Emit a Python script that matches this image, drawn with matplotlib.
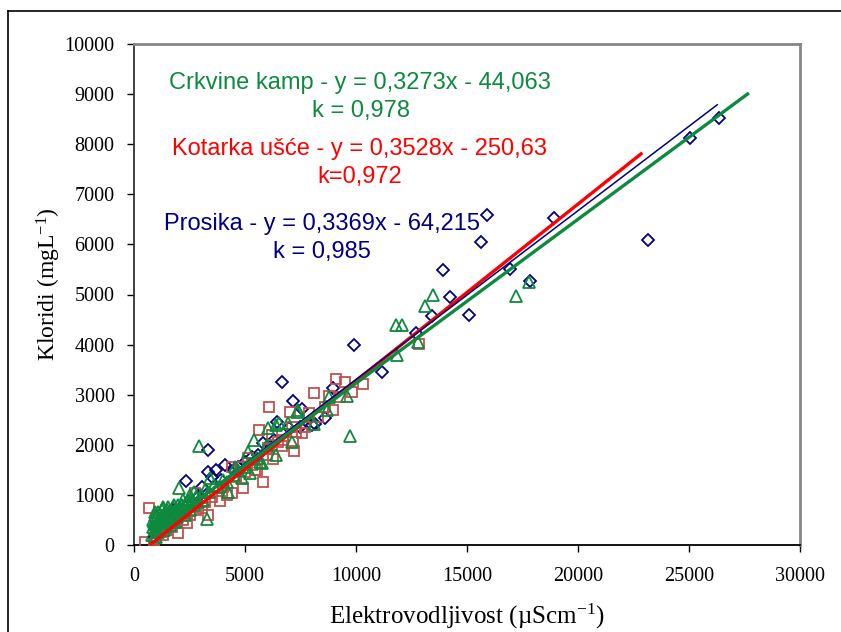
import matplotlib
matplotlib.use("Agg")
import matplotlib.pyplot as plt
from matplotlib.lines import Line2D
import numpy as np

# ---------------- data ----------------
# Prosika (blue diamonds)
prosika_x = [26350, 25050, 23150, 18900, 15920, 15630, 13930, 14220, 13440, 15090,
             16940, 17840, 12700, 11150, 9930, 6650, 7180, 7550, 8980, 8600,
             8030, 7000, 6430, 3350, 2350, 3690, 4100, 3350, 3050, 5000,
             5820, 7480, 8150, 1620, 1760, 3500, 1000, 1200, 1450, 2000,
             2200, 2600, 2900, 3900, 4500, 5300, 5600, 6100, 6300, 1300,
             1800, 4700]
prosika_y = [8530, 8130, 6095, 6520, 6580, 6048, 5480, 4960, 4580, 4600,
             5500, 5270, 4225, 3453, 4000, 3250, 2870, 2710, 3130, 2530,
             2400, 2335, 2460, 1890, 1275, 1500, 1600, 1460, 1165, 1660,
             2030, 2360, 2415, 640, 700, 1360, 300, 380, 450, 620,
             700, 850, 950, 1300, 1500, 1750, 1800, 2000, 2100, 500,
             600, 1550]

# Kotarka usce (red squares)
kotarka_x = [500, 690, 1320, 2000, 2370, 2750, 3050, 3350, 3870, 4180,
             4400, 4930, 5450, 5820, 4400, 4780, 5530, 5150, 6050, 6100,
             6280, 6650, 7210, 7180, 5650, 7100, 7550, 6200, 6080, 7030,
             7900, 8120, 8780, 9100, 9500, 9800, 10330, 8980, 6730, 12850,
             1000, 1200, 1500, 1700, 1900, 2200, 2500, 2800, 3200, 3500,
             4000, 4600, 5000, 5300, 6000, 6500, 7300, 7700, 8300, 8600,
             9300, 900, 1100]
kotarka_y = [50, 730, 200, 233, 430, 1040, 730, 600, 880, 1000,
             1030, 1130, 1500, 1265, 1560, 1560, 1500, 1730, 1930, 1910,
             1710, 1975, 1880, 2060, 2295, 2360, 2240, 2195, 2760, 2650,
             2630, 3030, 2970, 3310, 3260, 3060, 3210, 2695, 2100, 4010,
             150, 250, 300, 350, 450, 500, 600, 700, 850, 950,
             1150, 1350, 1450, 1600, 1800, 2050, 2250, 2350, 2550, 2750,
             2950, 100, 320]

# Crkvine kamp (green triangles)
crkvine_x = [17200, 17780, 13450, 13120, 11800, 12090, 11860, 12800, 9750, 8780,
             9580, 7370, 8680, 8100, 6050, 6550, 6950, 5400, 7130, 5150,
             6400, 5220, 4850, 4550, 4250, 5530, 5680, 5980, 2940, 2040,
             3270, 3420, 5750, 7330, 6380,
             800, 850, 900, 950, 950, 1000, 1000, 1050, 1100, 1100,
             1150, 1200, 1200, 1250, 1300, 1300, 1350, 1400, 1450, 1500,
             1550, 1600, 1650, 1700, 1750, 1800, 1850, 1900, 1950, 2000,
             2100, 2200, 2300, 2400, 2500, 2600, 2700, 2800, 2900, 3000,
             3100, 3200, 3400, 3600, 3800, 4000, 4200, 4500, 4700, 5000,
             1620, 1320, 950, 1550, 2500, 2700, 2200,
             850, 900, 1000, 1050, 1150, 1250, 1350, 1400, 1500, 1600,
             1700, 1800, 1900, 2000, 2150, 2300, 2450, 2600, 1250, 1750]
crkvine_y = [4975, 5255, 4990, 4770, 4390, 4390, 3790, 4060, 2175, 2950,
             2970, 2695, 2695, 2415, 2330, 2430, 2430, 2100, 2060, 1860,
             1800, 1430, 1330, 1560, 1065, 1730, 1660, 2000, 1975, 1130,
             510, 1330, 1630, 2660, 2395,
             200, 350, 450, 600, 300, 150, 400, 550, 250, 650,
             450, 350, 550, 700, 450, 750, 300, 600, 450, 700,
             550, 400, 650, 500, 750, 600, 450, 700, 550, 800,
             650, 750, 600, 850, 700, 900, 800, 950, 850, 1000,
             900, 1100, 1050, 1200, 1150, 1300, 1250, 1400, 1500, 1550,
             700, 730, 665, 760, 1000, 1050, 900,
             500, 250, 250, 450, 350, 600, 500, 350, 550, 650,
             600, 800, 600, 700, 800, 800, 900, 850, 450, 650]

# trend lines (from the equations printed on the chart)
trend_names = ["Kotarka", "Prosika", "Crkvine"]
trend_slope = [0.3528, 0.3369, 0.3273]
trend_icpt = [-250.63, -64.215, -44.063]
trend_xmin = [710, 650, 700]
trend_xmax = [22900, 26300, 27700]

xticks = [0, 5000, 10000, 15000, 20000, 25000, 30000]
yticks = [0, 1000, 2000, 3000, 4000, 5000, 6000, 7000, 8000, 9000, 10000]

# ---------------- style ----------------
plt.rcParams['mathtext.fontset'] = 'custom'
plt.rcParams['mathtext.rm'] = 'Liberation Serif'
plt.rcParams['mathtext.it'] = 'Liberation Serif:italic'
plt.rcParams['mathtext.bf'] = 'Liberation Serif:bold'

C_BLUE = '#000080'
C_RED_M = '#C0504D'
C_RED_L = '#FF0000'
C_GREEN = '#0E8A3E'

fig = plt.figure(figsize=(8.41, 6.32), dpi=100)
ax = fig.add_axes([134/841, 87/632, 666/841, 501/632])

ax.plot(prosika_x, prosika_y, linestyle='none', marker='D', markersize=6,
        markerfacecolor='none', markeredgecolor=C_BLUE, markeredgewidth=1.3, zorder=2)
ax.plot(kotarka_x, kotarka_y, linestyle='none', marker='s', markersize=7,
        markerfacecolor='none', markeredgecolor=C_RED_M, markeredgewidth=1.3, zorder=3)
ax.plot(crkvine_x, crkvine_y, linestyle='none', marker='^', markersize=8,
        markerfacecolor='none', markeredgecolor=C_GREEN, markeredgewidth=1.3, zorder=4)

line_colors = [C_RED_L, C_BLUE, C_GREEN]
line_widths = [2.4, 1.1, 2.4]
for i in range(3):
    xs = np.array([trend_xmin[i], trend_xmax[i]])
    ys = trend_slope[i] * xs + trend_icpt[i]
    ax.plot(xs, ys, color=line_colors[i], linewidth=line_widths[i],
            solid_capstyle='butt', zorder=5 + i)

ax.set_xlim(0, 30000)
ax.set_ylim(0, 10000)
ax.set_xticks(xticks)
ax.set_yticks(yticks)
ax.set_xticklabels([str(v) for v in xticks])
ax.set_yticklabels([str(v) for v in yticks])
ax.tick_params(axis='x', direction='out', length=5, width=1, pad=11,
               labelsize=14.5, color='black')
ax.tick_params(axis='y', direction='out', length=5, width=1, pad=9,
               labelsize=14.5, color='black')
for lab in ax.get_xticklabels() + ax.get_yticklabels():
    lab.set_fontfamily('Liberation Serif')

ax.spines['left'].set_color('#333333')
ax.spines['bottom'].set_color('#000000')
ax.spines['top'].set_color('#868686')
ax.spines['right'].set_color('#868686')
for s in ax.spines.values():
    s.set_linewidth(1.3)
ax.spines['top'].set_linewidth(2)
ax.spines['right'].set_linewidth(2)

ax.set_xlabel('Elektrovodljivost (µScm$^{\\mathrm{-1}}$)', fontsize=18,
              fontfamily='Liberation Serif')
ax.set_ylabel('Kloridi (mgL$^{\\mathrm{-1}}$)', fontsize=17,
              fontfamily='Liberation Serif')
ax.xaxis.set_label_coords(0.5, -0.114)
ax.yaxis.set_label_coords(-0.106, 0.52)

tk = dict(transform=ax.transAxes, ha='center', va='center', fontsize=17,
          fontfamily='Liberation Sans', zorder=10)
ax.text(0.339, 0.922, 'Crkvine kamp - y = 0,3273x - 44,063', color=C_GREEN, **tk)
ax.text(0.341, 0.866, 'k = 0,978', color=C_GREEN, **tk)
ax.text(0.339, 0.790, 'Kotarka ušće - y = 0,3528x - 250,63', color=C_RED_L, **tk)
ax.text(0.339, 0.735, 'k=0,972', color=C_RED_L, **tk)
ax.text(0.282, 0.640, 'Prosika - y = 0,3369x - 64,215', color=C_BLUE, **tk)
ax.text(0.282, 0.585, 'k = 0,985', color=C_BLUE, **tk)

# figure border (left and top edges visible)
fig.add_artist(Line2D([8/841, 8/841], [0, 1 - 11/632], transform=fig.transFigure,
                      color='black', linewidth=1.2))
fig.add_artist(Line2D([8/841, 1], [1 - 11/632, 1 - 11/632], transform=fig.transFigure,
                      color='black', linewidth=1.2))

fig.savefig('out.png', dpi=100)
